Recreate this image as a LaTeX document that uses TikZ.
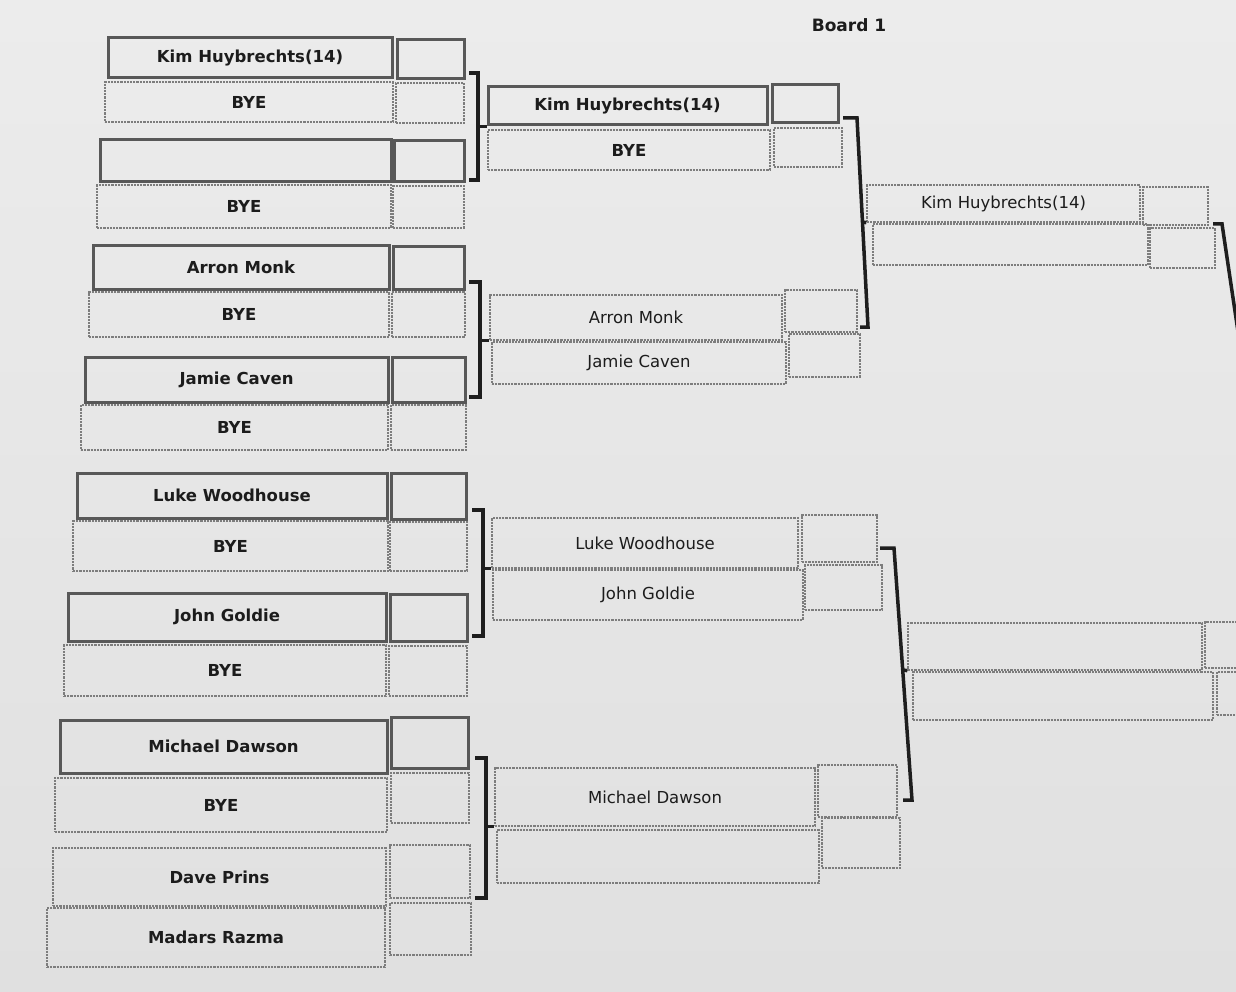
\documentclass[tikz,border=0pt]{standalone}
\usepackage{fontspec}
\setmainfont{DejaVu Sans}
\definecolor{bgtop}{RGB}{236,236,236}
\definecolor{bgbot}{RGB}{224,224,224}
\definecolor{boldc}{RGB}{88,88,88}
\definecolor{dotc}{RGB}{125,125,125}
\definecolor{brkc}{RGB}{30,30,30}
\definecolor{txt}{RGB}{28,28,28}
\newcommand\bxfont{\fontsize{16.5}{18}\selectfont}
\tikzset{
  bbox/.style={draw=boldc, line width=3pt, inner sep=0pt, font=\bfseries\bxfont, text=txt},
  dbox/.style={draw=dotc, line width=1.3pt, dash pattern=on 2.2pt off 1pt, inner sep=0pt, font=\bfseries\bxfont, text=txt},
  dboxr/.style={dbox, font=\bxfont},
  brk/.style={draw=brkc, line width=3.5pt, line join=miter},
}
\newcommand\bx[7]{%
  \pgfmathsetmacro\bxcx{(#3+#5)/2}%
  \pgfmathsetmacro\bxcy{(#4+#6)/2}%
  \pgfmathsetmacro\bxw{#5-#3}%
  \pgfmathsetmacro\bxh{#6-#4}%
  \node[#2, minimum width=\bxw pt, minimum height=\bxh pt] (#1) at (\bxcx,\bxcy) {#7};}
\begin{document}
\begin{tikzpicture}[x=1pt,y=-1pt]
\useasboundingbox (0,0) rectangle (1236,992);
\clip (0,0) rectangle (1236,992);
\shade[top color=bgtop, bottom color=bgbot] (0,0) rectangle (1236,992);

\node[font=\bfseries\fontsize{17}{19}\selectfont, text=txt] (title) at (849,25) {Board 1};

% Round 1
\bx{r1a}{bbox}{108}{38}{392}{78}{Kim Huybrechts(14)}
\bx{s1a}{bbox}{397}{40}{464}{79}{}
\bx{r1b}{dbox}{105}{82}{393}{122}{BYE}
\bx{s1b}{dbox}{396}{83}{464}{123}{}
\bx{r1c}{bbox}{100}{140}{391}{182}{}
\bx{s1c}{bbox}{394}{141}{464}{182}{}
\bx{r1d}{dbox}{97}{185}{391}{228}{BYE}
\bx{s1d}{dbox}{393}{186}{464}{228}{}
\bx{r1e}{bbox}{93}{246}{389}{289}{Arron Monk}
\bx{s1e}{bbox}{393}{247}{464}{289}{}
\bx{r1f}{dbox}{89}{292}{389}{337}{BYE}
\bx{s1f}{dbox}{392}{292}{465}{337}{}
\bx{r1g}{bbox}{85}{357}{388}{402}{Jamie Caven}
\bx{s1g}{bbox}{392}{357}{465}{402}{}
\bx{r1h}{dbox}{81}{405}{388}{450}{BYE}
\bx{s1h}{dbox}{391}{405}{466}{450}{}
\bx{r1i}{bbox}{77}{473}{387}{518}{Luke Woodhouse}
\bx{s1i}{bbox}{391}{473}{466}{519}{}
\bx{r1j}{dbox}{73}{521}{388}{571}{BYE}
\bx{s1j}{dbox}{390}{522}{467}{571}{}
\bx{r1k}{bbox}{68}{593}{386}{641}{John Goldie}
\bx{s1k}{bbox}{390}{594}{467}{641}{}
\bx{r1l}{dbox}{64}{645}{386}{696}{BYE}
\bx{s1l}{dbox}{389}{646}{467}{696}{}
\bx{r1m}{bbox}{60}{720}{387}{773}{Michael Dawson}
\bx{s1m}{bbox}{391}{717}{468}{768}{}
\bx{r1n}{dbox}{55}{778}{387}{832}{BYE}
\bx{s1n}{dbox}{391}{773}{469}{823}{}
\bx{r1o}{dbox}{53}{848}{386}{906}{Dave Prins}
\bx{s1o}{dbox}{390}{845}{470}{898}{}
\bx{r1p}{dbox}{47}{908}{385}{967}{Madars Razma}
\bx{s1p}{dbox}{390}{903}{471}{955}{}

% Round 2
\bx{r2a}{bbox}{488}{87}{767}{125}{Kim Huybrechts(14)}
\bx{s2a}{bbox}{772}{85}{838}{123}{}
\bx{r2b}{dbox}{488}{130}{770}{170}{BYE}
\bx{s2b}{dbox}{774}{128}{842}{167}{}
\bx{r2c}{dboxr}{490}{295}{782}{340}{Arron Monk}
\bx{s2c}{dbox}{785}{290}{857}{332}{}
\bx{r2d}{dboxr}{492}{342}{786}{384}{Jamie Caven}
\bx{s2d}{dbox}{789}{334}{860}{377}{}
\bx{r2e}{dboxr}{492}{518}{798}{568}{Luke Woodhouse}
\bx{s2e}{dbox}{802}{515}{877}{562}{}
\bx{r2f}{dboxr}{493}{570}{803}{620}{John Goldie}
\bx{s2f}{dbox}{805}{565}{882}{610}{}
\bx{r2g}{dboxr}{495}{768}{815}{826}{Michael Dawson}
\bx{s2g}{dbox}{818}{765}{897}{817}{}
\bx{r2h}{dboxr}{497}{830}{819}{883}{}
\bx{s2h}{dbox}{822}{818}{900}{868}{}

% Round 3
\bx{r3a}{dboxr}{867}{185}{1140}{222}{Kim Huybrechts(14)}
\bx{s3a}{dbox}{1143}{187}{1208}{225}{}
\bx{r3b}{dboxr}{873}{224}{1148}{265}{}
\bx{s3b}{dbox}{1150}{228}{1215}{268}{}
\bx{r3c}{dboxr}{908}{623}{1202}{670}{}
\bx{s3c}{dbox}{1205}{622}{1275}{668}{}
\bx{r3d}{dboxr}{913}{672}{1213}{720}{}
\bx{s3d}{dbox}{1217}{672}{1285}{715}{}

% Brackets round 1
\coordinate (b1a) at (469,73);  \coordinate (b1b) at (478,73);
\coordinate (b1c) at (478,180); \coordinate (b1d) at (469,180);
\draw[brk] (b1a) -- (b1b) -- (b1c) -- (b1d);
\draw[brk] (b1b |- r2a.south west) -- (r2a.south west);

\coordinate (b2a) at (469,282); \coordinate (b2b) at (480,282);
\coordinate (b2c) at (480,397); \coordinate (b2d) at (469,397);
\draw[brk] (b2a) -- (b2b) -- (b2c) -- (b2d);
\draw[brk] (b2b |- r2c.south west) -- (r2c.south west);

\coordinate (b3a) at (472,510); \coordinate (b3b) at (483,510);
\coordinate (b3c) at (483,636); \coordinate (b3d) at (472,636);
\draw[brk] (b3a) -- (b3b) -- (b3c) -- (b3d);
\draw[brk] (b3b |- r2e.south west) -- (r2e.south west);

\coordinate (b4a) at (475,758); \coordinate (b4b) at (486,758);
\coordinate (b4c) at (486,898); \coordinate (b4d) at (475,898);
\draw[brk] (b4a) -- (b4b) -- (b4c) -- (b4d);
\draw[brk] (b4b |- r2g.south west) -- (r2g.south west);

% Brackets round 2
\coordinate (c1a) at (843,118); \coordinate (c1b) at (857,118);
\coordinate (c1c) at (868,327); \coordinate (c1d) at (860,327);
\coordinate (c1m) at (862.5,222);
\draw[brk] (c1a) -- (c1b) -- (c1c) -- (c1d);
\draw[brk] (c1m) -- (r3a.south west);

\coordinate (c2a) at (880,548); \coordinate (c2b) at (894,548);
\coordinate (c2c) at (912,800); \coordinate (c2d) at (903,800);
\coordinate (c2m) at (903,670);
\draw[brk] (c2a) -- (c2b) -- (c2c) -- (c2d);
\draw[brk] (c2m) -- (r3c.south west);

% Bracket round 3
\coordinate (d1a) at (1213,224); \coordinate (d1b) at (1222,224);
\coordinate (d1c) at (1240,345);
\draw[brk] (d1a) -- (d1b) -- (d1c);
\end{tikzpicture}
\end{document}
